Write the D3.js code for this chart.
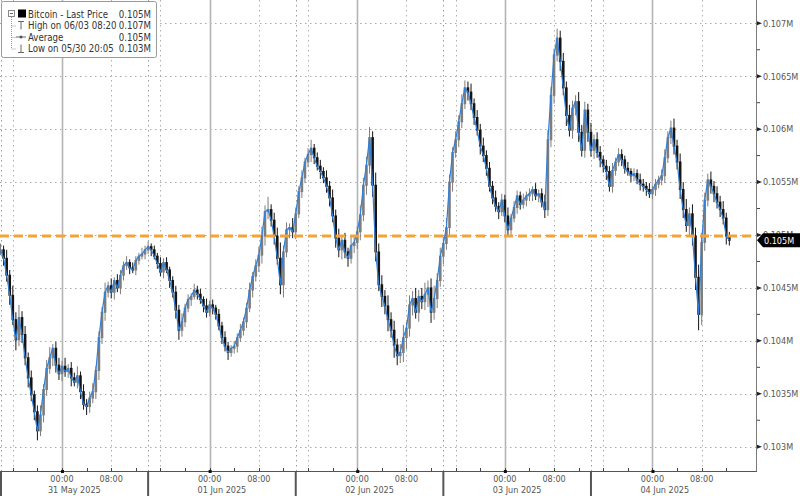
<!DOCTYPE html>
<html><head><meta charset="utf-8">
<script src="https://cdn.jsdelivr.net/npm/d3@7"></script>
<style>body{margin:0;background:#fff}svg{display:block}</style>
</head><body>
<svg id="c" width="800" height="496"></svg>
<script>
// ---- data (BTC, 30-minute bars, closing prices in USD) ----
const startTime = "2025-05-30T14:00:00Z";
const barMinutes = 30;
const closes = [
104860,104780,104620,104430,104200,104010,104220,104060,103840,103650,
103490,103330,103150,103300,103540,103740,103840,103930,103770,103690,
103760,103710,103740,103650,103610,103670,103520,103400,103380,103460,
103520,103720,104030,104270,104460,104520,104460,104570,104500,104620,
104710,104740,104690,104670,104760,104800,104820,104860,104890,104860,
104800,104730,104650,104740,104670,104570,104460,104290,104100,104180,
104310,104390,104420,104480,104440,104390,104330,104270,104340,104310,
104250,104140,104030,103950,103890,103930,103950,104030,104100,104180,
104310,104480,104610,104710,104810,104990,105220,105240,105140,104990,
104780,104530,104840,105050,105070,105030,105200,105410,105540,105690,
105760,105820,105730,105650,105600,105540,105460,105350,105180,104970,
104860,104950,104840,104780,104900,104930,105030,105190,105470,105660,
105920,105470,104840,104530,104420,104330,104200,104100,103960,103860,
103890,104030,104120,104340,104400,104270,104420,104370,104440,104500,
104270,104400,104570,104800,104920,105070,105500,105780,105900,106070,
106240,106390,106350,106240,106110,105990,105840,105750,105630,105460,
105350,105270,105220,105330,105180,105050,105160,105260,105370,105290,
105330,105370,105390,105430,105370,105390,105310,105240,105900,106320,
106700,106860,106640,106390,106130,105990,106200,106260,105970,105800,
106180,105970,105800,105900,105780,105710,105650,105600,105460,105610,
105690,105760,105710,105630,105600,105560,105580,105520,105480,105460,
105430,105390,105430,105480,105520,105560,105730,105920,106010,105840,
105690,105430,105240,105090,105200,104990,104600,104250,104930,105330,
105520,105460,105390,105310,105240,105160,104990,104950
];
// wick extents above / below each candle body (USD)
const wickHi = [
60,40,80,50,90,70,120,60,80,50, 70,40,60,90,50,80,100,40,60,70,
50,80,40,60,50,90,40,70,50,60, 80,40,60,50,90,40,70,30,60,50,
40,60,30,50,40,30,60,40,50,30, 40,30,60,40,50,30,40,60,50,80,
40,50,30,60,40,50,30,70,40,50, 30,50,40,60,40,30,50,40,60,40,
50,70,40,60,80,90,60,120,50,70, 80,150,60,70,40,90,60,50,70,40,
60,80,40,50,60,40,70,50,80,60, 90,50,70,40,80,60,50,90,70,80,
100,60,120,80,90,60,100,70,90,60, 80,120,60,90,70,100,60,80,110,70,
90,120,70,80,60,90,70,50,80,60, 90,70,60,80,50,70,60,80,50,60,
50,70,40,60,50,80,40,60,50,40, 60,40,50,30,60,40,50,70,90,80,
60,90,70,80,60,100,70,60,90,70, 80,60,90,50,70,60,40,60,50,70,
40,60,50,40,60,30,50,40,60,50, 40,60,30,50,40,60,80,60,70,90,
60,80,70,100,60,90,80,120,90,70, 60,80,50,70,60,80,50,40
];
const wickLo = [
50,70,60,90,50,100,60,80,70,90, 60,80,90,50,70,60,50,80,70,60,
70,50,60,80,40,60,70,50,80,60, 50,70,90,60,80,50,60,70,40,60,
50,40,60,30,50,40,30,50,40,60, 30,50,40,60,30,70,50,80,90,60,
50,40,60,30,50,40,60,50,40,60, 50,40,60,50,70,40,50,60,40,50,
60,40,70,50,60,80,90,70,60,80, 60,90,120,50,80,60,70,40,60,50,
50,70,60,40,70,50,60,80,60,90, 70,90,60,80,50,70,60,80,60,90,
80,110,90,60,100,80,110,70,120,90, 70,90,110,80,100,60,90,70,80,120,
100,70,90,60,80,60,70,90,50,70, 60,50,80,60,70,50,80,60,70,50,
60,50,70,40,60,50,70,40,60,50, 40,60,50,70,40,60,50,80,60,70,
80,60,90,70,100,60,80,70,90,60, 70,90,60,80,50,70,60,80,50,60,
50,40,60,50,40,60,50,40,60,50, 60,40,50,60,40,50,70,50,60,80,
70,90,80,60,100,90,120,150,100,80, 60,70,80,60,70,60,80,50
];
const averageValue = 104990;
const lastValue = 104950;
const yTickValues = [103000,103500,104000,104500,105000,105500,106000,106500,107000];
const yMinorValues = [103250,103750,104250,104750,105250,105750,106250,106750];
const dayStarts = ["2025-05-31","2025-06-01","2025-06-02","2025-06-03","2025-06-04"];
const dayLabels = ["31 May 2025","01 Jun 2025","02 Jun 2025","03 Jun 2025","04 Jun 2025"];
const hourLabels = ["00:00","08:00"];
const legendRows = [
  ["Bitcoin - Last Price","0.105M"],
  ["High on 06/03 08:20","0.107M"],
  ["Average","0.105M"],
  ["Low on 05/30 20:05","0.103M"]
];

// ---- layout ----
const W=800,H=496, plotR=756, plotB=471;
const FONT='"DejaVu Sans Condensed","DejaVu Sans",sans-serif';
const svg=d3.select("#c");
const t0=new Date(startTime).getTime();
const times=closes.map((d,i)=>new Date(t0+i*barMinutes*60000));
const x=d3.scaleUtc().domain([new Date("2025-05-30T13:55:00Z"),new Date("2025-06-04T16:50:00Z")]).range([0,plotR]);
const y=d3.scaleLinear().domain([103000,107000]).range([446.7,23.3]);
const H_MS=3600000;
const dataEnd=times[times.length-1];

// gridlines
const g=svg.append("g");
g.selectAll("line.h").data(yTickValues).join("line")
  .attr("x1",0).attr("x2",plotR).attr("y1",d=>Math.round(y(d))+0.5).attr("y2",d=>Math.round(y(d))+0.5)
  .attr("stroke","#a8a8a8").attr("stroke-width",1).attr("stroke-dasharray","1.5,3.5");
const vMarks=[];
for(let t=new Date("2025-05-30T16:00:00Z").getTime(); t<=dataEnd.getTime(); t+=H_MS){
  const h=new Date(t).getUTCHours();
  if(h===0) vMarks.push({t,type:"day"});
  else if(h===8||h===16) vMarks.push({t,type:"dot"});
  else if(h===14) vMarks.push({t,type:"sep"});
}
vMarks.unshift({t:new Date("2025-05-30T14:00:00Z").getTime(),type:"sep"});
g.selectAll("line.v").data(vMarks).join("line")
  .attr("x1",d=>Math.round(x(new Date(d.t)))+0.5).attr("x2",d=>Math.round(x(new Date(d.t)))+0.5)
  .attr("y1",0).attr("y2",plotB)
  .attr("stroke",d=>d.type==="day"?"#b4b4b4":(d.type==="sep"?"#9a9a9a":"#b0b0b0"))
  .attr("stroke-width",d=>d.type==="day"?1.6:1)
  .attr("stroke-dasharray",d=>d.type==="day"?null:"1.5,3.5");

// candles
const bars=closes.map((c,i)=>{
  const o=i?closes[i-1]:c;
  return {t:times[i],o,c,h:Math.max(o,c)+wickHi[i],l:Math.min(o,c)-wickLo[i]};
});
const colorOf=d=>d.c>=d.o?"#7d7d7d":"#141414";
const cg=svg.append("g");
cg.selectAll("line").data(bars).join("line")
  .attr("x1",d=>x(d.t)).attr("x2",d=>x(d.t))
  .attr("y1",d=>y(d.h)).attr("y2",d=>y(d.l))
  .attr("stroke",colorOf).attr("stroke-width",1);
cg.selectAll("rect").data(bars).join("rect")
  .attr("x",d=>x(d.t)-1.3).attr("width",2.6)
  .attr("y",d=>y(Math.max(d.o,d.c))-0.5)
  .attr("height",d=>Math.abs(y(d.o)-y(d.c))+1)
  .attr("fill",colorOf);
// blue line
svg.append("path").datum(bars)
  .attr("d",d3.line().x(d=>x(d.t)).y(d=>y(d.c)))
  .attr("fill","none").attr("stroke","#2f7fd8").attr("stroke-width",1.2).attr("stroke-linejoin","round");

// average dashed line
svg.append("line").attr("x1",0).attr("x2",plotR)
  .attr("y1",y(averageValue)).attr("y2",y(averageValue))
  .attr("stroke","#f2a33a").attr("stroke-width",3).attr("stroke-dasharray","9,5");

// frame
svg.append("line").attr("x1",plotR+0.5).attr("x2",plotR+0.5).attr("y1",0).attr("y2",plotB)
  .attr("stroke","#7a7a7a").attr("stroke-width",1);
svg.append("line").attr("x1",0).attr("x2",plotR+1).attr("y1",plotB+0.5).attr("y2",plotB+0.5)
  .attr("stroke","#555").attr("stroke-width",1);

// y-axis
const ya=svg.append("g");
ya.selectAll("path.tri").data(yTickValues).join("path")
  .attr("d",d=>{const yy=y(d);return `M${plotR+1},${yy-2}L${plotR+6},${yy}L${plotR+1},${yy+2}Z`;})
  .attr("fill","#222");
ya.selectAll("line.mi").data(yMinorValues).join("line")
  .attr("x1",plotR+1).attr("x2",plotR+4).attr("y1",d=>y(d)).attr("y2",d=>y(d))
  .attr("stroke","#444").attr("stroke-width",1);
ya.selectAll("text").data(yTickValues).join("text")
  .attr("x",plotR+7).attr("y",d=>y(d)+3.3)
  .attr("font-family",FONT).attr("font-size",9).attr("fill","#555")
  .text(d=>(+(d/1e6).toFixed(4))+"M");

// last price tag
const ly=y(lastValue);
svg.append("path")
  .attr("d",`M${plotR+1},${ly}L${plotR+7},${ly-7}L800,${ly-7}L800,${ly+7}L${plotR+7},${ly+7}Z`)
  .attr("fill","#000");
svg.append("text").attr("x",plotR+8).attr("y",ly+3.5)
  .attr("font-family",FONT).attr("font-size",9).attr("fill","#fff")
  .text((+(lastValue/1e6).toFixed(3))+"M");

// x-axis ticks
const xa=svg.append("g");
const minor=[];
for(let t=new Date("2025-05-30T16:00:00Z").getTime(); t<=dataEnd.getTime(); t+=4*H_MS) minor.push(new Date(t));
xa.selectAll("line.mt").data(minor).join("line")
  .attr("x1",d=>Math.round(x(d))+0.5).attr("x2",d=>Math.round(x(d))+0.5)
  .attr("y1",plotB-3).attr("y2",plotB).attr("stroke","#444");
const dayDates=dayStarts.map(s=>new Date(s+"T00:00:00Z"));
xa.selectAll("rect.dd").data(dayDates).join("rect")
  .attr("x",d=>x(d)-1).attr("y",plotB-1).attr("width",3).attr("height",3).attr("fill","#111");
const hourTicks=[];
dayDates.forEach(d=>hourLabels.forEach((lab,k)=>hourTicks.push({t:new Date(d.getTime()+k*8*H_MS),lab})));
xa.selectAll("text.hr").data(hourTicks).join("text")
  .attr("x",d=>x(d.t)).attr("y",481.5).attr("text-anchor","middle")
  .attr("font-family",FONT).attr("font-size",9).attr("fill","#555").text(d=>d.lab);
const seps=[new Date("2025-05-30T14:00:00Z")];
dayDates.forEach(d=>seps.push(new Date(d.getTime()+14*H_MS)));
xa.selectAll("line.sep").data(seps.slice(0,5)).join("line")
  .attr("x1",d=>Math.max(1,x(d))).attr("x2",d=>Math.max(1,x(d)))
  .attr("y1",plotB).attr("y2",H).attr("stroke","#555").attr("stroke-width",2);
xa.selectAll("text.day").data(dayLabels).join("text")
  .attr("x",(d,i)=>(Math.max(0,x(seps[i]))+x(seps[i+1]))/2).attr("y",493)
  .attr("text-anchor","middle").attr("font-family",FONT).attr("font-size",9).attr("fill","#555").text(d=>d);

// legend
const lg=svg.append("g");
lg.append("rect").attr("x",1.5).attr("y",1.5).attr("width",155).attr("height",56)
  .attr("fill","#fff").attr("stroke","#9a9a9a").attr("rx",2);
const rowY=[14,25.5,37,48.5];
lg.append("rect").attr("x",8.5).attr("y",rowY[0]-3.5).attr("width",6).attr("height",6).attr("fill","#fff").attr("stroke","#888");
lg.append("line").attr("x1",10).attr("x2",13).attr("y1",rowY[0]-0.5).attr("y2",rowY[0]-0.5).attr("stroke","#666");
lg.append("line").attr("x1",11.5).attr("x2",11.5).attr("y1",rowY[0]+3).attr("y2",rowY[3]).attr("stroke","#999").attr("stroke-dasharray","1,1");
rowY.slice(1).forEach(ry=>lg.append("line").attr("x1",11.5).attr("x2",16).attr("y1",ry+0.5).attr("y2",ry+0.5).attr("stroke","#999").attr("stroke-dasharray","1,1"));
lg.append("rect").attr("x",18).attr("y",rowY[0]-4.5).attr("width",8).attr("height",8).attr("fill","#000");
lg.append("path").attr("d",`M18,${rowY[1]-4}H24M21,${rowY[1]-4}V${rowY[1]+4}`).attr("stroke","#666").attr("fill","none");
lg.append("path").attr("d",`M16,${rowY[2]}H26`).attr("stroke","#666");
lg.append("circle").attr("cx",21).attr("cy",rowY[2]).attr("r",1.5).attr("fill","#555");
lg.append("path").attr("d",`M21,${rowY[3]-4}V${rowY[3]+4}M18,${rowY[3]+4}H24`).attr("stroke","#666").attr("fill","none");
lg.selectAll("text.n").data(legendRows).join("text")
  .attr("x",28).attr("y",(d,i)=>rowY[i]+3.5).attr("font-family",FONT).attr("font-size",9.6).attr("fill","#333").text(d=>d[0]);
lg.selectAll("text.v").data(legendRows).join("text")
  .attr("x",151).attr("y",(d,i)=>rowY[i]+3.5).attr("text-anchor","end").attr("font-family",FONT).attr("font-size",9.6).attr("fill","#333").text(d=>d[1]);
</script>
</body></html>
